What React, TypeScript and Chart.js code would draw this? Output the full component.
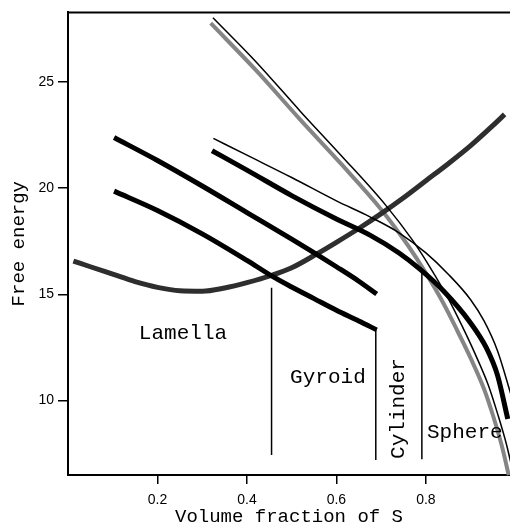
import React, { useEffect, useRef } from 'react';
import { Chart, registerables } from 'chart.js';

Chart.register(...registerables);

// ---- axis ticks ----
const xTicks = [0.2, 0.4, 0.6, 0.8];
const yTicks = [10, 15, 20, 25];

// ---- Lamella (thick dark grey) ----
const lamellaFraction = [0.012, 0.05, 0.1, 0.15, 0.2, 0.25, 0.3, 0.35, 0.4, 0.456, 0.5, 0.556, 0.6, 0.65, 0.7, 0.75, 0.8, 0.85, 0.9, 0.95, 0.976];
const lamellaEnergy = [16.57, 16.3, 15.95, 15.6, 15.33, 15.17, 15.15, 15.3, 15.55, 15.9, 16.25, 16.9, 17.45, 18.1, 18.8, 19.55, 20.35, 21.15, 22.0, 22.95, 23.47];

// ---- Gyroid (two thick black curves) ----
const gyroidUpperFraction = [0.103, 0.2, 0.3, 0.4, 0.5, 0.556, 0.6, 0.65, 0.69];
const gyroidUpperEnergy = [22.38, 21.3, 20.1, 18.85, 17.6, 16.88, 16.3, 15.62, 15.02];
const gyroidLowerFraction = [0.103, 0.2, 0.3, 0.4, 0.456, 0.5, 0.55, 0.6, 0.65, 0.69];
const gyroidLowerEnergy = [19.86, 18.95, 17.85, 16.6, 15.86, 15.35, 14.8, 14.25, 13.75, 13.33];

// ---- Cylinder (thick black + thin black) ----
const cylinderFraction = [0.322, 0.4, 0.5, 0.6, 0.675, 0.74, 0.786, 0.84, 0.897, 0.935, 0.96, 0.983];
const cylinderEnergy = [21.76, 20.85, 19.65, 18.55, 17.79, 16.95, 16.2, 15.15, 13.74, 12.49, 11.2, 9.14];
const cylinderThinFraction = [0.325, 0.4, 0.5, 0.6, 0.675, 0.74, 0.8, 0.85, 0.9, 0.93, 0.96, 0.99];
const cylinderThinEnergy = [22.34, 21.55, 20.5, 19.4, 18.65, 17.9, 16.95, 15.95, 14.75, 13.75, 12.35, 10.3];

// ---- Sphere (thick grey + thin black) ----
const sphereFraction = [0.319, 0.42, 0.52, 0.61, 0.7, 0.76, 0.8, 0.84, 0.87, 0.9, 0.93, 0.95, 0.97, 0.985];
const sphereEnergy = [27.76, 25.55, 23.2, 21.15, 19.0, 17.3, 16.0, 14.55, 13.3, 12.0, 10.55, 9.3, 7.85, 6.5];
const sphereThinFraction = [0.324, 0.42, 0.52, 0.61, 0.71, 0.77, 0.81, 0.85, 0.88, 0.91, 0.94, 0.96, 0.98, 0.995];
const sphereThinEnergy = [28.02, 25.95, 23.6, 21.55, 19.2, 17.55, 16.25, 14.8, 13.55, 12.2, 10.7, 9.4, 7.95, 6.6];

// ---- phase boundaries (vertical lines) ----
const boundaryFraction = [0.455, 0.688, 0.791];
const boundaryTop = [15.31, 13.36, 16.05];
const boundaryBottom = [7.44, 7.21, 7.24];

// ---- phase labels (data coordinates) ----
const phaseNames = ['Lamella', 'Gyroid', 'Cylinder', 'Sphere'];
const phaseLabelFraction = [0.257, 0.581, 0.751, 0.887];
const phaseLabelEnergy = [12.9, 10.85, 9.63, 8.23];
const phaseLabelVertical = [false, false, true, false];

const zip = (xs: number[], ys: number[]) => xs.map((x, i) => ({ x, y: ys[i] }));

const overlayPlugin = {
  id: 'overlay',
  afterDatasetsDraw(chart: any) {
    const { ctx, chartArea, scales } = chart;
    ctx.save();
    ctx.strokeStyle = '#000';
    ctx.lineWidth = 2;
    ctx.beginPath();
    ctx.moveTo(chartArea.left - 1, chartArea.top);
    ctx.lineTo(chartArea.right, chartArea.top);
    ctx.stroke();
    ctx.font = '21px "Liberation Mono", monospace';
    ctx.fillStyle = '#000';
    ctx.textAlign = 'center';
    ctx.textBaseline = 'alphabetic';
    phaseNames.forEach((name, i) => {
      const px = scales.x.getPixelForValue(phaseLabelFraction[i]);
      const py = scales.y.getPixelForValue(phaseLabelEnergy[i]);
      ctx.save();
      ctx.translate(px, py);
      if (phaseLabelVertical[i]) ctx.rotate(-Math.PI / 2);
      ctx.fillText(name, 0, 0);
      ctx.restore();
    });
    ctx.restore();
  },
};

export default function App() {
  const ref = useRef<HTMLCanvasElement | null>(null);

  useEffect(() => {
    if (!ref.current) return;
    const curve = (data: any[], color: string, width: number) => ({
      data,
      borderColor: color,
      borderWidth: width,
      pointRadius: 0,
      fill: false,
      cubicInterpolationMode: 'monotone' as const,
      clip: false as any,
    });
    const boundaries = boundaryFraction.map((x, i) => ({
      data: [
        { x, y: boundaryTop[i] },
        { x, y: boundaryBottom[i] },
      ],
      borderColor: '#000',
      borderWidth: 1.5,
      pointRadius: 0,
      tension: 0,
      fill: false,
    }));

    const chart = new Chart(ref.current, {
      type: 'line',
      data: {
        datasets: [
          curve(zip(cylinderThinFraction, cylinderThinEnergy), '#000', 1.5),
          curve(zip(sphereThinFraction, sphereThinEnergy), '#000', 1.5),
          curve(zip(cylinderFraction, cylinderEnergy), '#000', 5),
          curve(zip(gyroidUpperFraction, gyroidUpperEnergy), '#000', 5),
          curve(zip(gyroidLowerFraction, gyroidLowerEnergy), '#000', 5),
          curve(zip(lamellaFraction, lamellaEnergy), '#2e2e2e', 5),
          curve(zip(sphereFraction, sphereEnergy), '#858585', 4),
          ...boundaries,
        ] as any,
      },
      options: {
        animation: false,
        responsive: false,
        layout: { padding: { top: 9, right: 0, left: 0, bottom: 0 } },
        plugins: {
          legend: { display: false },
          tooltip: { enabled: false },
        },
        scales: {
          x: {
            type: 'linear',
            min: 0,
            max: 0.988,
            afterFit: (s: any) => {
              s.height = 51;
            },
            afterBuildTicks: (s: any) => {
              s.ticks = xTicks.map((v) => ({ value: v }));
            },
            grid: {
              display: true,
              drawOnChartArea: false,
              drawTicks: true,
              tickLength: 9,
              color: '#000',
              lineWidth: 1.5,
            },
            border: { display: true, color: '#000', width: 2 },
            ticks: {
              color: '#000',
              padding: 8,
              maxRotation: 0,
              font: { family: '"Liberation Sans", Arial, sans-serif', size: 14 },
              callback: (v: any) => Number(v).toFixed(1),
            },
            title: {
              display: true,
              text: 'Volume fraction of S',
              color: '#000',
              font: { family: '"Liberation Mono", monospace', size: 19, lineHeight: 1 },
              padding: { top: 0, bottom: 0 },
            },
          },
          y: {
            type: 'linear',
            min: 6.5,
            max: 28.27,
            afterFit: (s: any) => {
              s.width = 68;
            },
            afterBuildTicks: (s: any) => {
              s.ticks = yTicks.map((v) => ({ value: v }));
            },
            grid: {
              display: true,
              drawOnChartArea: false,
              drawTicks: true,
              tickLength: 10,
              color: '#000',
              lineWidth: 1.5,
            },
            border: { display: true, color: '#000', width: 2 },
            ticks: {
              color: '#000',
              padding: 4,
              font: { family: '"Liberation Sans", Arial, sans-serif', size: 14 },
              callback: (v: any) => String(v),
            },
            title: {
              display: true,
              text: 'Free energy',
              color: '#000',
              font: { family: '"Liberation Mono", monospace', size: 19, lineHeight: 1 },
              padding: { top: 9, bottom: 0 },
            },
          },
        },
      },
      plugins: [overlayPlugin],
    });
    return () => chart.destroy();
  }, []);

  return (
    <div style={{ position: 'fixed', left: 0, top: 0, width: 510, height: 526, background: '#fff' }}>
      <canvas ref={ref} width={510} height={526} style={{ display: 'block', width: 510, height: 526 }} />
    </div>
  );
}
